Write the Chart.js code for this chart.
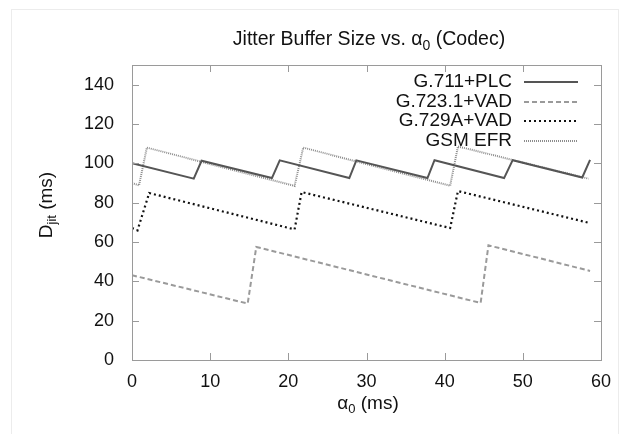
<!DOCTYPE html>
<html>
<head>
<meta charset="utf-8">
<script src="https://cdn.jsdelivr.net/npm/chart.js@4.4.1/dist/chart.umd.min.js"></script>
<style>
  html, body { margin: 0; padding: 0; background: #fff; }
  #wrap { width: 623px; height: 434px; position: relative; }
</style>
</head>
<body>
<div id="wrap"><canvas id="jitterChart" width="623" height="434"></canvas></div>
<script>
// values (alpha0 in ms, Djit in ms)
const xTicks = [0, 10, 20, 30, 40, 50, 60];
const yTicks = [0, 20, 40, 60, 80, 100, 120, 140];

const g711X = [0, 7.9, 8.9, 17.9, 18.9, 27.8, 28.7, 37.8, 38.7, 47.6, 48.7, 57.6, 58.6];
const g711Y = [100, 92.2, 101.3, 92.5, 101.5, 92.5, 101.5, 92.5, 101.6, 92.5, 101.6, 92.8, 101.8];

const g723X = [0, 14.8, 15.9, 44.6, 45.6, 58.6];
const g723Y = [43.1, 28.7, 57.5, 29.0, 58.3, 45.3];

const g729X = [0, 0.7, 2.2, 20.8, 21.7, 40.7, 41.7, 58.5];
const g729Y = [67.1, 65.9, 84.9, 66.4, 85.4, 67.1, 85.9, 69.7];

const gsmX = [0, 0.9, 1.9, 20.8, 21.9, 40.7, 41.7, 58.4];
const gsmY = [90.0, 88.8, 108.0, 88.5, 108.0, 88.6, 108.6, 92.2];

const FONT = '"Liberation Sans", Arial, sans-serif';
const FRAME = '#9a9a9a';

function pts(xs, ys) {
    return xs.map((x, i) => ({ x: x, y: ys[i] }));
}

// draws text with subscript pieces, e.g. alpha_0
function richWidth(ctx, parts, size) {
    let w = 0;
    parts.forEach(p => {
        ctx.font = (p.sub ? Math.round(size * 0.7) : size) + 'px ' + FONT;
        w += ctx.measureText(p.t).width;
    });
    return w;
}
function drawRich(ctx, parts, cx, cy, size) {
    const total = richWidth(ctx, parts, size);
    let x = cx - total / 2;
    ctx.textAlign = 'left';
    ctx.textBaseline = 'middle';
    parts.forEach(p => {
        ctx.font = (p.sub ? Math.round(size * 0.7) : size) + 'px ' + FONT;
        ctx.fillText(p.t, x, p.sub ? cy + size * 0.3 : cy);
        x += ctx.measureText(p.t).width;
    });
}

const framePlugin = {
    id: 'frame',
    beforeDraw(chart) {
        const ctx = chart.ctx;
        ctx.save();
        ctx.strokeStyle = '#ececec';
        ctx.lineWidth = 1;
        ctx.strokeRect(11.5, 9.5, 607, 440);
        ctx.restore();
    },
    afterDraw(chart) {
        const ctx = chart.ctx;
        const a = chart.chartArea;
        const xs = chart.scales.x, ys = chart.scales.y;
        ctx.save();
        ctx.strokeStyle = FRAME;
        ctx.lineWidth = 1;
        ctx.strokeRect(a.left + 0.5, a.top + 0.5, a.right - a.left, a.bottom - a.top);
        // inward tick marks on all four sides
        ctx.beginPath();
        const len = 7;
        xTicks.forEach(v => {
            const px = Math.round(xs.getPixelForValue(v)) + 0.5;
            ctx.moveTo(px, a.bottom); ctx.lineTo(px, a.bottom - len);
            ctx.moveTo(px, a.top); ctx.lineTo(px, a.top + len);
        });
        yTicks.forEach(v => {
            const py = Math.round(ys.getPixelForValue(v)) + 0.5;
            ctx.moveTo(a.left, py); ctx.lineTo(a.left + len, py);
            ctx.moveTo(a.right, py); ctx.lineTo(a.right - len, py);
        });
        ctx.stroke();

        // titles with subscripts
        ctx.fillStyle = '#111';
        drawRich(ctx, [{ t: 'Jitter Buffer Size vs. ' }, { t: 'α' }, { t: '0', sub: true }, { t: ' (Codec)' }],
            369, 40, 19.5);
        drawRich(ctx, [{ t: 'α' }, { t: '0', sub: true }, { t: ' (ms)' }],
            368, 404, 19);
        ctx.save();
        ctx.translate(47, 205);
        ctx.rotate(-Math.PI / 2);
        drawRich(ctx, [{ t: 'D' }, { t: 'jit', sub: true }, { t: ' (ms)' }], 0, 0, 19);
        ctx.restore();

        // legend: right-aligned label then line sample
        const rowY = [82, 101.5, 121, 140.5];
        const textRight = 512, lineL = 524, lineR = 578;
        ctx.font = '19px ' + FONT;
        ctx.textAlign = 'right';
        ctx.textBaseline = 'middle';
        chart.data.datasets.forEach((ds, i) => {
            ctx.fillStyle = '#111';
            ctx.fillText(ds.label, textRight, rowY[i]);
            ctx.beginPath();
            ctx.strokeStyle = ds.borderColor;
            ctx.lineWidth = ds.borderWidth;
            ctx.setLineDash(ds.borderDash || []);
            ctx.moveTo(lineL, Math.round(rowY[i]));
            ctx.lineTo(lineR, Math.round(rowY[i]));
            ctx.stroke();
        });
        ctx.restore();
    }
};

const ctx = document.getElementById('jitterChart').getContext('2d');
const jitterChart = new Chart(ctx, {
    type: 'line',
    data: {
        datasets: [
            { label: 'G.711+PLC', data: pts(g711X, g711Y), borderColor: '#555555', borderWidth: 2 },
            { label: 'G.723.1+VAD', data: pts(g723X, g723Y), borderColor: '#9a9a9a', borderWidth: 2, borderDash: [5, 3] },
            { label: 'G.729A+VAD', data: pts(g729X, g729Y), borderColor: '#111111', borderWidth: 2.2, borderDash: [2, 3] },
            { label: 'GSM EFR', data: pts(gsmX, gsmY), borderColor: '#8c8c8c', borderWidth: 2, borderDash: [1, 1] }
        ]
    },
    options: {
        responsive: false,
        animation: false,
        layout: { padding: { left: 0, top: 65, right: 22, bottom: 0 } },
        elements: { point: { radius: 0 }, line: { tension: 0, fill: false } },
        plugins: { legend: { display: false }, title: { display: false }, tooltip: { enabled: false } },
        scales: {
            x: {
                type: 'linear', min: 0, max: 60,
                afterBuildTicks: s => { s.ticks = xTicks.map(v => ({ value: v })); },
                afterFit: s => { s.height = 74; },
                grid: { display: false }, border: { display: false },
                ticks: { color: '#111', font: { family: FONT, size: 18 }, padding: 3, maxRotation: 0 }
            },
            y: {
                type: 'linear', min: 0, max: 150,
                afterBuildTicks: s => { s.ticks = yTicks.map(v => ({ value: v })); },
                afterFit: s => { s.width = 132; },
                grid: { display: false }, border: { display: false },
                ticks: { color: '#111', font: { family: FONT, size: 18 }, padding: 10 }
            }
        }
    },
    plugins: [framePlugin]
});
</script>
</body>
</html>
